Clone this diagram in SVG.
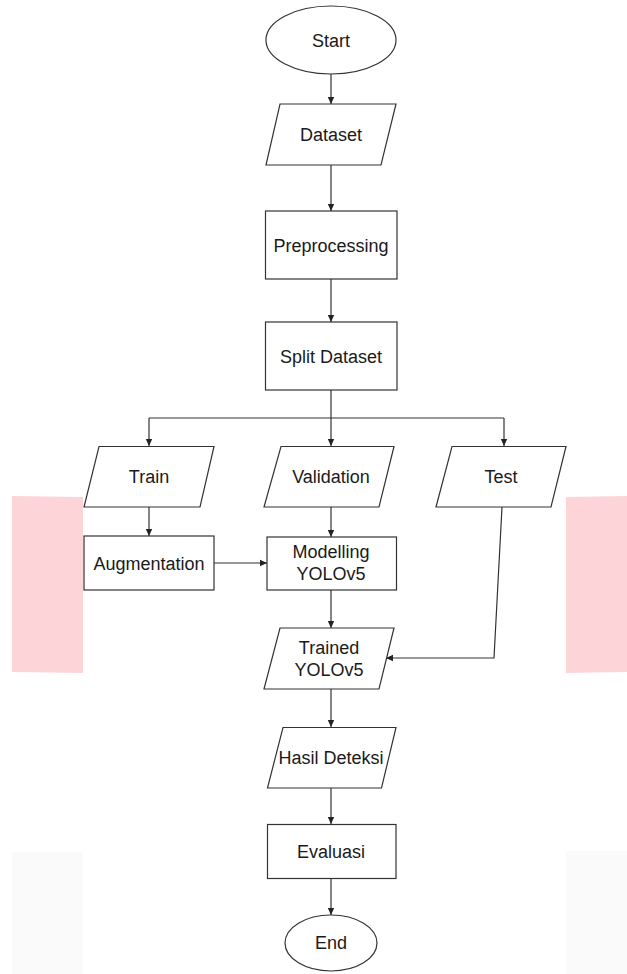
<svg xmlns="http://www.w3.org/2000/svg" width="627" height="974" viewBox="0 0 627 974">
<style>
.shape{fill:#ffffff;stroke:#333333;stroke-width:1.2}
.lbl{font-family:"Liberation Sans",Arial,sans-serif;font-size:18px;fill:#1a1a1a;text-anchor:middle}
.conn{fill:none;stroke:#333333;stroke-width:1.2}
.wm{fill:#fdd5d9;stroke:none}
.wg{fill:#fafafa;stroke:none}
</style>
<defs>
<marker id="arr" markerUnits="userSpaceOnUse" markerWidth="8" markerHeight="8" refX="7" refY="4" orient="auto">
<path d="M0,0.8 L7,4 L0,7.2 z" fill="#222222"/>
</marker>
</defs>
<rect width="627" height="974" fill="#ffffff"/>
<g id="watermark">
<polygon class="wm" points="12,496 83,497 83,673 12,672"/>
<polygon class="wm" points="566,497 627,496 627,672 566,673"/>
<rect class="wg" x="12" y="852" width="71" height="122"/>
<rect class="wg" x="566" y="851" width="61" height="123"/>
</g>
<g id="connectors">
<line class="conn" x1="331" y1="74" x2="331" y2="104" marker-end="url(#arr)"/>
<line class="conn" x1="331" y1="165" x2="331" y2="211" marker-end="url(#arr)"/>
<line class="conn" x1="331" y1="279" x2="331" y2="322" marker-end="url(#arr)"/>
<line class="conn" x1="331" y1="390" x2="331" y2="418"/>
<line class="conn" x1="149" y1="418" x2="504" y2="418"/>
<line class="conn" x1="149" y1="418" x2="149" y2="446" marker-end="url(#arr)"/>
<line class="conn" x1="331" y1="418" x2="331" y2="446" marker-end="url(#arr)"/>
<line class="conn" x1="504" y1="418" x2="504" y2="446" marker-end="url(#arr)"/>
<line class="conn" x1="149" y1="507" x2="149" y2="536" marker-end="url(#arr)"/>
<line class="conn" x1="331" y1="507" x2="331" y2="537" marker-end="url(#arr)"/>
<line class="conn" x1="214" y1="563" x2="267" y2="563" marker-end="url(#arr)"/>
<polyline class="conn" points="502,507 494,658 386,658" marker-end="url(#arr)"/>
<line class="conn" x1="331" y1="590" x2="331" y2="628" marker-end="url(#arr)"/>
<line class="conn" x1="331" y1="689" x2="331" y2="727" marker-end="url(#arr)"/>
<line class="conn" x1="331" y1="788" x2="331" y2="824" marker-end="url(#arr)"/>
<line class="conn" x1="331" y1="878" x2="331" y2="915" marker-end="url(#arr)"/>
</g>
<g id="start">
<ellipse class="shape" cx="331" cy="40" rx="65" ry="34"/>
<text class="lbl" x="331" y="46.5">Start</text>
</g>
<g id="dataset">
<polygon class="shape" points="280,104 396,104 381,165 266,165"/>
<text class="lbl" x="331" y="141">Dataset</text>
</g>
<g id="preprocessing">
<rect class="shape" x="265.5" y="211" width="131.5" height="68"/>
<text class="lbl" x="331" y="251.5">Preprocessing</text>
</g>
<g id="split">
<rect class="shape" x="265.5" y="322" width="131.5" height="68"/>
<text class="lbl" x="331" y="362.5">Split Dataset</text>
</g>
<g id="train">
<polygon class="shape" points="99,446.5 214,446.5 200,507 84,507"/>
<text class="lbl" x="149" y="483">Train</text>
</g>
<g id="validation">
<polygon class="shape" points="281,446.5 394,446.5 379,507 264,507"/>
<text class="lbl" x="331" y="483">Validation</text>
</g>
<g id="test">
<polygon class="shape" points="452,446.5 566,446.5 551,507 436,507"/>
<text class="lbl" x="501" y="483">Test</text>
</g>
<g id="augmentation">
<rect class="shape" x="84" y="536" width="130" height="54"/>
<text class="lbl" x="149" y="569.5">Augmentation</text>
</g>
<g id="modelling">
<rect class="shape" x="267" y="537" width="129.5" height="53"/>
<text class="lbl" x="331" y="558">Modelling</text>
<text class="lbl" x="331" y="580">YOLOv5</text>
</g>
<g id="trained">
<polygon class="shape" points="280,628 394,628 379,689 264,689"/>
<text class="lbl" x="329" y="654">Trained</text>
<text class="lbl" x="329" y="676">YOLOv5</text>
</g>
<g id="hasil">
<polygon class="shape" points="283,727.5 396,727.5 381.5,788 267.5,788"/>
<text class="lbl" x="331" y="764">Hasil Deteksi</text>
</g>
<g id="evaluasi">
<rect class="shape" x="267.5" y="824.5" width="128.5" height="54"/>
<text class="lbl" x="331" y="858">Evaluasi</text>
</g>
<g id="end">
<ellipse class="shape" cx="331" cy="943" rx="46" ry="28"/>
<text class="lbl" x="331" y="949">End</text>
</g>
</svg>
